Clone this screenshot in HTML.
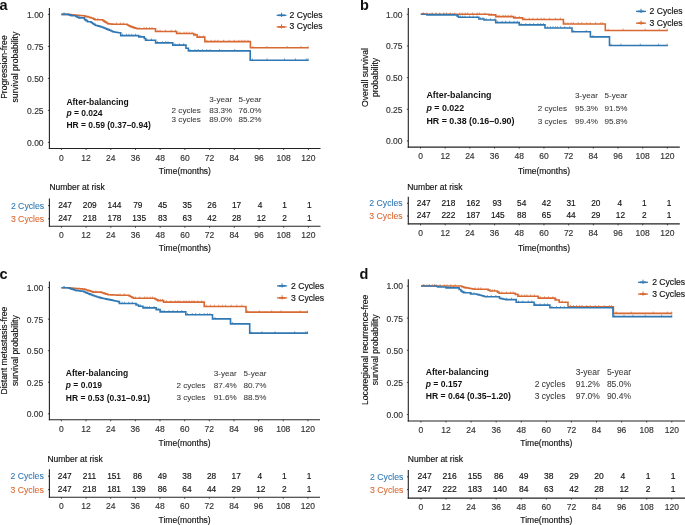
<!DOCTYPE html>
<html><head><meta charset="utf-8"><style>
html,body{margin:0;padding:0;background:#fff;}
svg{display:block;will-change:transform;}
text{font-family:"Liberation Sans",sans-serif;}
</style></head><body>
<svg width="685" height="525" viewBox="0 0 685 525">
<rect width="685" height="525" fill="#fff"/>
<text x="-0.60" y="10.00" font-size="14.5" fill="#111" font-weight="bold">a</text>
<line x1="49.40" y1="7.90" x2="49.40" y2="149.05" stroke="#222222" stroke-width="1.1"/>
<line x1="48.85" y1="148.50" x2="320.50" y2="148.50" stroke="#222222" stroke-width="1.1"/>
<line x1="47.90" y1="142.40" x2="49.40" y2="142.40" stroke="#222222" stroke-width="0.8"/>
<text x="43.60" y="145.80" font-size="8.5" fill="#333333" stroke="#333333" stroke-width="0.15" text-anchor="end">0.00</text>
<line x1="47.90" y1="110.40" x2="49.40" y2="110.40" stroke="#222222" stroke-width="0.8"/>
<text x="43.60" y="113.80" font-size="8.5" fill="#333333" stroke="#333333" stroke-width="0.15" text-anchor="end">0.25</text>
<line x1="47.90" y1="78.40" x2="49.40" y2="78.40" stroke="#222222" stroke-width="0.8"/>
<text x="43.60" y="81.80" font-size="8.5" fill="#333333" stroke="#333333" stroke-width="0.15" text-anchor="end">0.50</text>
<line x1="47.90" y1="46.40" x2="49.40" y2="46.40" stroke="#222222" stroke-width="0.8"/>
<text x="43.60" y="49.80" font-size="8.5" fill="#333333" stroke="#333333" stroke-width="0.15" text-anchor="end">0.75</text>
<line x1="47.90" y1="14.40" x2="49.40" y2="14.40" stroke="#222222" stroke-width="0.8"/>
<text x="43.60" y="17.80" font-size="8.5" fill="#333333" stroke="#333333" stroke-width="0.15" text-anchor="end">1.00</text>
<line x1="61.40" y1="148.50" x2="61.40" y2="150.00" stroke="#222222" stroke-width="0.8"/>
<text x="61.40" y="160.80" font-size="8.5" fill="#333333" stroke="#333333" stroke-width="0.15" text-anchor="middle">0</text>
<line x1="86.10" y1="148.50" x2="86.10" y2="150.00" stroke="#222222" stroke-width="0.8"/>
<text x="86.10" y="160.80" font-size="8.5" fill="#333333" stroke="#333333" stroke-width="0.15" text-anchor="middle">12</text>
<line x1="110.80" y1="148.50" x2="110.80" y2="150.00" stroke="#222222" stroke-width="0.8"/>
<text x="110.80" y="160.80" font-size="8.5" fill="#333333" stroke="#333333" stroke-width="0.15" text-anchor="middle">24</text>
<line x1="135.50" y1="148.50" x2="135.50" y2="150.00" stroke="#222222" stroke-width="0.8"/>
<text x="135.50" y="160.80" font-size="8.5" fill="#333333" stroke="#333333" stroke-width="0.15" text-anchor="middle">36</text>
<line x1="160.20" y1="148.50" x2="160.20" y2="150.00" stroke="#222222" stroke-width="0.8"/>
<text x="160.20" y="160.80" font-size="8.5" fill="#333333" stroke="#333333" stroke-width="0.15" text-anchor="middle">48</text>
<line x1="184.90" y1="148.50" x2="184.90" y2="150.00" stroke="#222222" stroke-width="0.8"/>
<text x="184.90" y="160.80" font-size="8.5" fill="#333333" stroke="#333333" stroke-width="0.15" text-anchor="middle">60</text>
<line x1="209.60" y1="148.50" x2="209.60" y2="150.00" stroke="#222222" stroke-width="0.8"/>
<text x="209.60" y="160.80" font-size="8.5" fill="#333333" stroke="#333333" stroke-width="0.15" text-anchor="middle">72</text>
<line x1="234.30" y1="148.50" x2="234.30" y2="150.00" stroke="#222222" stroke-width="0.8"/>
<text x="234.30" y="160.80" font-size="8.5" fill="#333333" stroke="#333333" stroke-width="0.15" text-anchor="middle">84</text>
<line x1="259.00" y1="148.50" x2="259.00" y2="150.00" stroke="#222222" stroke-width="0.8"/>
<text x="259.00" y="160.80" font-size="8.5" fill="#333333" stroke="#333333" stroke-width="0.15" text-anchor="middle">96</text>
<line x1="283.70" y1="148.50" x2="283.70" y2="150.00" stroke="#222222" stroke-width="0.8"/>
<text x="283.70" y="160.80" font-size="8.5" fill="#333333" stroke="#333333" stroke-width="0.15" text-anchor="middle">108</text>
<line x1="308.40" y1="148.50" x2="308.40" y2="150.00" stroke="#222222" stroke-width="0.8"/>
<text x="308.40" y="160.80" font-size="8.5" fill="#333333" stroke="#333333" stroke-width="0.15" text-anchor="middle">120</text>
<text x="184.90" y="173.80" font-size="8.5" fill="#111111" stroke="#111111" stroke-width="0.15" text-anchor="middle">Time(months)</text>
<text x="0" y="0" font-size="8.6" fill="#111111" stroke="#111111" stroke-width="0.15" text-anchor="middle" transform="translate(7.00,67.10) rotate(-90)">Progression-free</text>
<text x="0" y="0" font-size="8.6" fill="#111111" stroke="#111111" stroke-width="0.15" text-anchor="middle" transform="translate(18.00,67.10) rotate(-90)">survival probability</text>
<line x1="276.60" y1="15.30" x2="286.50" y2="15.30" stroke="#3078b3" stroke-width="1.2"/>
<line x1="278.25" y1="15.30" x2="284.85" y2="15.30" stroke="#3078b3" stroke-width="1.7"/>
<line x1="281.55" y1="12.70" x2="281.55" y2="16.90" stroke="#3078b3" stroke-width="1.0"/>
<text x="289.60" y="17.70" font-size="8.6" fill="#111111" stroke="#111111" stroke-width="0.15">2 Cycles</text>
<line x1="276.60" y1="26.90" x2="286.50" y2="26.90" stroke="#d96933" stroke-width="1.2"/>
<line x1="278.25" y1="26.90" x2="284.85" y2="26.90" stroke="#d96933" stroke-width="1.7"/>
<line x1="281.55" y1="24.30" x2="281.55" y2="28.50" stroke="#d96933" stroke-width="1.0"/>
<text x="289.60" y="29.30" font-size="8.6" fill="#111111" stroke="#111111" stroke-width="0.15">3 Cycles</text>
<text x="66.40" y="104.60" font-size="8.5" fill="#111" font-weight="bold">After-balancing</text>
<text x="66.40" y="116.00" font-size="8.5" fill="#111" font-weight="bold"><tspan font-style="italic">p</tspan> = 0.024</text>
<text x="66.40" y="127.90" font-size="8.5" fill="#111" font-weight="bold">HR = 0.59 (0.37–0.94)</text>
<text x="209.20" y="102.20" font-size="8.1" fill="#3a3a3a" stroke="#3a3a3a" stroke-width="0.06">3-year</text>
<text x="238.50" y="102.20" font-size="8.1" fill="#3a3a3a" stroke="#3a3a3a" stroke-width="0.06">5-year</text>
<text x="171.60" y="112.80" font-size="8.1" fill="#3a3a3a" stroke="#3a3a3a" stroke-width="0.06">2 cycles</text>
<text x="171.60" y="122.20" font-size="8.1" fill="#3a3a3a" stroke="#3a3a3a" stroke-width="0.06">3 cycles</text>
<text x="209.20" y="112.80" font-size="8.1" fill="#3a3a3a" stroke="#3a3a3a" stroke-width="0.06">83.3%</text>
<text x="238.50" y="112.80" font-size="8.1" fill="#3a3a3a" stroke="#3a3a3a" stroke-width="0.06">76.0%</text>
<text x="209.20" y="122.20" font-size="8.1" fill="#3a3a3a" stroke="#3a3a3a" stroke-width="0.06">89.0%</text>
<text x="238.50" y="122.20" font-size="8.1" fill="#3a3a3a" stroke="#3a3a3a" stroke-width="0.06">85.2%</text>
<path d="M61.40 14.40H67.00H68.37V14.52H69.73V14.63H71.10V14.75H72.47V14.87H73.83V14.98H75.20V15.10H76.57V15.22H77.93V15.33H79.30V15.45H80.67V15.57H82.03V15.68H83.40V15.80H84.93V16.20H86.47V16.60H88.00V17.00H89.57V17.50H91.13V18.00H92.70V18.50H93.85V19.10H95.00V19.70H101.40H102.68V20.52H103.96V21.34H105.24V22.16H106.52V22.98H107.80V23.80H109.10V23.90H110.40V24.00H111.70V24.10H113.00V24.20H114.30V24.30H126.00H127.33V25.00H128.67V25.70H130.00V26.40H131.38V26.88H132.76V27.36H134.14V27.84H135.52V28.32H136.90V28.80H155.50V31.50H176.60V33.50H193.80V34.90H197.10V37.10H204.80V41.60H250.40V47.80H308.60" fill="none" stroke="#d96933" stroke-width="1.6" stroke-linejoin="miter"/>
<path d="M61.40 14.40H67.60H68.97V14.87H70.33V15.33H71.70V15.80H74.60H75.97V16.50H77.33V17.20H78.70V17.90H82.80H84.50V19.60H86.00V20.65H87.50V21.70H89.80H91.10V22.57H92.40V23.45H93.70V24.32H95.00V25.20H96.28V25.56H97.56V25.92H98.84V26.28H100.12V26.64H101.40V27.00H102.68V27.52H103.96V28.04H105.24V28.56H106.52V29.08H107.80V29.60H109.37V30.30H110.93V31.00H112.50V31.70H113.97V31.97H115.45V32.25H116.93V32.52H118.40V32.80H120.70V35.60H138.80V36.90H143.00H144.30V38.55H145.60V40.20H155.60V42.90H172.80V45.10H186.00V48.20H188.40V50.90H250.20V60.20H308.60" fill="none" stroke="#3078b3" stroke-width="1.6" stroke-linejoin="miter"/>
<path d="M63.30 12.60V14.40M97.85 17.90V19.70M116.32 22.50V24.30M120.47 22.50V24.30M123.22 22.50V24.30M139.16 27.00V28.80M144.04 27.00V28.80M146.46 27.00V28.80M149.63 27.00V28.80M152.04 27.00V28.80M157.89 29.70V31.50M160.13 29.70V31.50M165.67 29.70V31.50M171.15 29.70V31.50M175.54 29.70V31.50M177.91 31.70V33.50M180.07 31.70V33.50M184.02 31.70V33.50M186.33 31.70V33.50M189.09 31.70V33.50M192.04 31.70V33.50M195.73 33.10V34.90M199.78 35.30V37.10M203.70 35.30V37.10M206.80 39.80V41.60M211.22 39.80V41.60M214.92 39.80V41.60M217.99 39.80V41.60M223.58 39.80V41.60M229.17 39.80V41.60M234.21 39.80V41.60M238.79 39.80V41.60M241.99 39.80V41.60M244.89 39.80V41.60M248.01 39.80V41.60M252.93 46.00V47.80M266.94 46.00V47.80M287.19 46.00V47.80M301.00 46.00V47.80M308.10 46.00V48.40" stroke="#d96933" stroke-width="0.8" fill="none" opacity="0.85"/>
<path d="M64.25 12.60V14.40M79.87 16.10V17.90M122.55 33.80V35.60M126.50 33.80V35.60M129.06 33.80V35.60M131.83 33.80V35.60M135.49 33.80V35.60M140.71 35.10V36.90M146.77 38.40V40.20M151.36 38.40V40.20M157.63 41.10V42.90M162.29 41.10V42.90M165.65 41.10V42.90M167.95 41.10V42.90M174.98 43.30V45.10M179.38 43.30V45.10M183.65 43.30V45.10M190.13 49.10V50.90M194.88 49.10V50.90M198.28 49.10V50.90M202.38 49.10V50.90M206.79 49.10V50.90M209.99 49.10V50.90M219.59 49.10V50.90M234.63 49.10V50.90M252.38 58.40V60.20M267.05 58.40V60.20M284.44 58.40V60.20M295.39 58.40V60.20M306.29 58.40V60.20M308.10 58.40V60.80" stroke="#3078b3" stroke-width="0.8" fill="none" opacity="0.85"/>
<text x="49.40" y="190.00" font-size="8.5" fill="#111111" stroke="#111111" stroke-width="0.15">Number at risk</text>
<line x1="49.40" y1="198.50" x2="49.40" y2="226.85" stroke="#222222" stroke-width="1.1"/>
<line x1="48.85" y1="226.30" x2="320.50" y2="226.30" stroke="#222222" stroke-width="1.1"/>
<line x1="48.10" y1="205.60" x2="49.40" y2="205.60" stroke="#222222" stroke-width="0.9"/>
<text x="44.20" y="208.50" font-size="8.7" fill="#3078b3" stroke="#3078b3" stroke-width="0.08" text-anchor="end">2 Cycles</text>
<text x="65.05" y="207.50" font-size="8.3" fill="#111111" stroke="#111111" stroke-width="0.15" text-anchor="middle">247</text>
<text x="89.75" y="207.50" font-size="8.3" fill="#111111" stroke="#111111" stroke-width="0.15" text-anchor="middle">209</text>
<text x="114.45" y="207.50" font-size="8.3" fill="#111111" stroke="#111111" stroke-width="0.15" text-anchor="middle">144</text>
<text x="137.80" y="207.50" font-size="8.3" fill="#111111" stroke="#111111" stroke-width="0.15" text-anchor="middle">79</text>
<text x="162.50" y="207.50" font-size="8.3" fill="#111111" stroke="#111111" stroke-width="0.15" text-anchor="middle">45</text>
<text x="187.20" y="207.50" font-size="8.3" fill="#111111" stroke="#111111" stroke-width="0.15" text-anchor="middle">35</text>
<text x="211.90" y="207.50" font-size="8.3" fill="#111111" stroke="#111111" stroke-width="0.15" text-anchor="middle">26</text>
<text x="236.60" y="207.50" font-size="8.3" fill="#111111" stroke="#111111" stroke-width="0.15" text-anchor="middle">17</text>
<text x="259.95" y="207.50" font-size="8.3" fill="#111111" stroke="#111111" stroke-width="0.15" text-anchor="middle">4</text>
<text x="284.65" y="207.50" font-size="8.3" fill="#111111" stroke="#111111" stroke-width="0.15" text-anchor="middle">1</text>
<text x="309.35" y="207.50" font-size="8.3" fill="#111111" stroke="#111111" stroke-width="0.15" text-anchor="middle">1</text>
<line x1="48.10" y1="218.80" x2="49.40" y2="218.80" stroke="#222222" stroke-width="0.9"/>
<text x="44.20" y="221.70" font-size="8.7" fill="#d96933" stroke="#d96933" stroke-width="0.08" text-anchor="end">3 Cycles</text>
<text x="65.05" y="220.70" font-size="8.3" fill="#111111" stroke="#111111" stroke-width="0.15" text-anchor="middle">247</text>
<text x="89.75" y="220.70" font-size="8.3" fill="#111111" stroke="#111111" stroke-width="0.15" text-anchor="middle">218</text>
<text x="114.45" y="220.70" font-size="8.3" fill="#111111" stroke="#111111" stroke-width="0.15" text-anchor="middle">178</text>
<text x="139.15" y="220.70" font-size="8.3" fill="#111111" stroke="#111111" stroke-width="0.15" text-anchor="middle">135</text>
<text x="162.50" y="220.70" font-size="8.3" fill="#111111" stroke="#111111" stroke-width="0.15" text-anchor="middle">83</text>
<text x="187.20" y="220.70" font-size="8.3" fill="#111111" stroke="#111111" stroke-width="0.15" text-anchor="middle">63</text>
<text x="211.90" y="220.70" font-size="8.3" fill="#111111" stroke="#111111" stroke-width="0.15" text-anchor="middle">42</text>
<text x="236.60" y="220.70" font-size="8.3" fill="#111111" stroke="#111111" stroke-width="0.15" text-anchor="middle">28</text>
<text x="261.30" y="220.70" font-size="8.3" fill="#111111" stroke="#111111" stroke-width="0.15" text-anchor="middle">12</text>
<text x="284.65" y="220.70" font-size="8.3" fill="#111111" stroke="#111111" stroke-width="0.15" text-anchor="middle">2</text>
<text x="309.35" y="220.70" font-size="8.3" fill="#111111" stroke="#111111" stroke-width="0.15" text-anchor="middle">1</text>
<line x1="61.40" y1="226.30" x2="61.40" y2="227.80" stroke="#222222" stroke-width="0.8"/>
<text x="61.40" y="238.30" font-size="8.5" fill="#333333" stroke="#333333" stroke-width="0.15" text-anchor="middle">0</text>
<line x1="86.10" y1="226.30" x2="86.10" y2="227.80" stroke="#222222" stroke-width="0.8"/>
<text x="86.10" y="238.30" font-size="8.5" fill="#333333" stroke="#333333" stroke-width="0.15" text-anchor="middle">12</text>
<line x1="110.80" y1="226.30" x2="110.80" y2="227.80" stroke="#222222" stroke-width="0.8"/>
<text x="110.80" y="238.30" font-size="8.5" fill="#333333" stroke="#333333" stroke-width="0.15" text-anchor="middle">24</text>
<line x1="135.50" y1="226.30" x2="135.50" y2="227.80" stroke="#222222" stroke-width="0.8"/>
<text x="135.50" y="238.30" font-size="8.5" fill="#333333" stroke="#333333" stroke-width="0.15" text-anchor="middle">36</text>
<line x1="160.20" y1="226.30" x2="160.20" y2="227.80" stroke="#222222" stroke-width="0.8"/>
<text x="160.20" y="238.30" font-size="8.5" fill="#333333" stroke="#333333" stroke-width="0.15" text-anchor="middle">48</text>
<line x1="184.90" y1="226.30" x2="184.90" y2="227.80" stroke="#222222" stroke-width="0.8"/>
<text x="184.90" y="238.30" font-size="8.5" fill="#333333" stroke="#333333" stroke-width="0.15" text-anchor="middle">60</text>
<line x1="209.60" y1="226.30" x2="209.60" y2="227.80" stroke="#222222" stroke-width="0.8"/>
<text x="209.60" y="238.30" font-size="8.5" fill="#333333" stroke="#333333" stroke-width="0.15" text-anchor="middle">72</text>
<line x1="234.30" y1="226.30" x2="234.30" y2="227.80" stroke="#222222" stroke-width="0.8"/>
<text x="234.30" y="238.30" font-size="8.5" fill="#333333" stroke="#333333" stroke-width="0.15" text-anchor="middle">84</text>
<line x1="259.00" y1="226.30" x2="259.00" y2="227.80" stroke="#222222" stroke-width="0.8"/>
<text x="259.00" y="238.30" font-size="8.5" fill="#333333" stroke="#333333" stroke-width="0.15" text-anchor="middle">96</text>
<line x1="283.70" y1="226.30" x2="283.70" y2="227.80" stroke="#222222" stroke-width="0.8"/>
<text x="283.70" y="238.30" font-size="8.5" fill="#333333" stroke="#333333" stroke-width="0.15" text-anchor="middle">108</text>
<line x1="308.40" y1="226.30" x2="308.40" y2="227.80" stroke="#222222" stroke-width="0.8"/>
<text x="308.40" y="238.30" font-size="8.5" fill="#333333" stroke="#333333" stroke-width="0.15" text-anchor="middle">120</text>
<text x="184.90" y="251.00" font-size="8.5" fill="#111111" stroke="#111111" stroke-width="0.15" text-anchor="middle">Time(months)</text>
<text x="360.00" y="10.00" font-size="14.5" fill="#111" font-weight="bold">b</text>
<line x1="408.30" y1="8.10" x2="408.30" y2="147.65" stroke="#222222" stroke-width="1.1"/>
<line x1="407.75" y1="147.10" x2="679.80" y2="147.10" stroke="#222222" stroke-width="1.1"/>
<line x1="406.80" y1="140.90" x2="408.30" y2="140.90" stroke="#222222" stroke-width="0.8"/>
<text x="402.50" y="144.30" font-size="8.5" fill="#333333" stroke="#333333" stroke-width="0.15" text-anchor="end">0.00</text>
<line x1="406.80" y1="109.25" x2="408.30" y2="109.25" stroke="#222222" stroke-width="0.8"/>
<text x="402.50" y="112.65" font-size="8.5" fill="#333333" stroke="#333333" stroke-width="0.15" text-anchor="end">0.25</text>
<line x1="406.80" y1="77.60" x2="408.30" y2="77.60" stroke="#222222" stroke-width="0.8"/>
<text x="402.50" y="81.00" font-size="8.5" fill="#333333" stroke="#333333" stroke-width="0.15" text-anchor="end">0.50</text>
<line x1="406.80" y1="45.95" x2="408.30" y2="45.95" stroke="#222222" stroke-width="0.8"/>
<text x="402.50" y="49.35" font-size="8.5" fill="#333333" stroke="#333333" stroke-width="0.15" text-anchor="end">0.75</text>
<line x1="406.80" y1="14.30" x2="408.30" y2="14.30" stroke="#222222" stroke-width="0.8"/>
<text x="402.50" y="17.70" font-size="8.5" fill="#333333" stroke="#333333" stroke-width="0.15" text-anchor="end">1.00</text>
<line x1="420.50" y1="147.10" x2="420.50" y2="148.60" stroke="#222222" stroke-width="0.8"/>
<text x="420.50" y="159.00" font-size="8.5" fill="#333333" stroke="#333333" stroke-width="0.15" text-anchor="middle">0</text>
<line x1="445.19" y1="147.10" x2="445.19" y2="148.60" stroke="#222222" stroke-width="0.8"/>
<text x="445.19" y="159.00" font-size="8.5" fill="#333333" stroke="#333333" stroke-width="0.15" text-anchor="middle">12</text>
<line x1="469.88" y1="147.10" x2="469.88" y2="148.60" stroke="#222222" stroke-width="0.8"/>
<text x="469.88" y="159.00" font-size="8.5" fill="#333333" stroke="#333333" stroke-width="0.15" text-anchor="middle">24</text>
<line x1="494.57" y1="147.10" x2="494.57" y2="148.60" stroke="#222222" stroke-width="0.8"/>
<text x="494.57" y="159.00" font-size="8.5" fill="#333333" stroke="#333333" stroke-width="0.15" text-anchor="middle">36</text>
<line x1="519.26" y1="147.10" x2="519.26" y2="148.60" stroke="#222222" stroke-width="0.8"/>
<text x="519.26" y="159.00" font-size="8.5" fill="#333333" stroke="#333333" stroke-width="0.15" text-anchor="middle">48</text>
<line x1="543.95" y1="147.10" x2="543.95" y2="148.60" stroke="#222222" stroke-width="0.8"/>
<text x="543.95" y="159.00" font-size="8.5" fill="#333333" stroke="#333333" stroke-width="0.15" text-anchor="middle">60</text>
<line x1="568.64" y1="147.10" x2="568.64" y2="148.60" stroke="#222222" stroke-width="0.8"/>
<text x="568.64" y="159.00" font-size="8.5" fill="#333333" stroke="#333333" stroke-width="0.15" text-anchor="middle">72</text>
<line x1="593.33" y1="147.10" x2="593.33" y2="148.60" stroke="#222222" stroke-width="0.8"/>
<text x="593.33" y="159.00" font-size="8.5" fill="#333333" stroke="#333333" stroke-width="0.15" text-anchor="middle">84</text>
<line x1="618.02" y1="147.10" x2="618.02" y2="148.60" stroke="#222222" stroke-width="0.8"/>
<text x="618.02" y="159.00" font-size="8.5" fill="#333333" stroke="#333333" stroke-width="0.15" text-anchor="middle">96</text>
<line x1="642.71" y1="147.10" x2="642.71" y2="148.60" stroke="#222222" stroke-width="0.8"/>
<text x="642.71" y="159.00" font-size="8.5" fill="#333333" stroke="#333333" stroke-width="0.15" text-anchor="middle">108</text>
<line x1="667.40" y1="147.10" x2="667.40" y2="148.60" stroke="#222222" stroke-width="0.8"/>
<text x="667.40" y="159.00" font-size="8.5" fill="#333333" stroke="#333333" stroke-width="0.15" text-anchor="middle">120</text>
<text x="543.95" y="173.60" font-size="8.5" fill="#111111" stroke="#111111" stroke-width="0.15" text-anchor="middle">Time(months)</text>
<text x="0" y="0" font-size="8.6" fill="#111111" stroke="#111111" stroke-width="0.15" text-anchor="middle" transform="translate(368.20,77.50) rotate(-90)">Overall survival</text>
<text x="0" y="0" font-size="8.6" fill="#111111" stroke="#111111" stroke-width="0.15" text-anchor="middle" transform="translate(378.40,77.50) rotate(-90)">probability</text>
<line x1="636.00" y1="11.40" x2="646.00" y2="11.40" stroke="#3078b3" stroke-width="1.2"/>
<line x1="637.70" y1="11.40" x2="644.30" y2="11.40" stroke="#3078b3" stroke-width="1.7"/>
<line x1="641.00" y1="8.80" x2="641.00" y2="13.00" stroke="#3078b3" stroke-width="1.0"/>
<text x="649.60" y="14.00" font-size="8.6" fill="#111111" stroke="#111111" stroke-width="0.15">2 Cycles</text>
<line x1="636.00" y1="23.20" x2="646.00" y2="23.20" stroke="#d96933" stroke-width="1.2"/>
<line x1="637.70" y1="23.20" x2="644.30" y2="23.20" stroke="#d96933" stroke-width="1.7"/>
<line x1="641.00" y1="20.60" x2="641.00" y2="24.80" stroke="#d96933" stroke-width="1.0"/>
<text x="649.60" y="25.80" font-size="8.6" fill="#111111" stroke="#111111" stroke-width="0.15">3 Cycles</text>
<text x="426.40" y="98.30" font-size="8.9" fill="#111" font-weight="bold">After-balancing</text>
<text x="426.40" y="111.20" font-size="8.9" fill="#111" font-weight="bold"><tspan font-style="italic">p</tspan> = 0.022</text>
<text x="426.40" y="124.20" font-size="8.9" fill="#111" font-weight="bold">HR = 0.38 (0.16–0.90)</text>
<text x="575.10" y="98.10" font-size="8.1" fill="#3a3a3a" stroke="#3a3a3a" stroke-width="0.06">3-year</text>
<text x="604.50" y="98.10" font-size="8.1" fill="#3a3a3a" stroke="#3a3a3a" stroke-width="0.06">5-year</text>
<text x="537.70" y="111.30" font-size="8.1" fill="#3a3a3a" stroke="#3a3a3a" stroke-width="0.06">2 cycles</text>
<text x="537.70" y="124.40" font-size="8.1" fill="#3a3a3a" stroke="#3a3a3a" stroke-width="0.06">3 cycles</text>
<text x="575.10" y="111.30" font-size="8.1" fill="#3a3a3a" stroke="#3a3a3a" stroke-width="0.06">95.3%</text>
<text x="604.50" y="111.30" font-size="8.1" fill="#3a3a3a" stroke="#3a3a3a" stroke-width="0.06">91.5%</text>
<text x="575.10" y="124.40" font-size="8.1" fill="#3a3a3a" stroke="#3a3a3a" stroke-width="0.06">99.4%</text>
<text x="604.50" y="124.40" font-size="8.1" fill="#3a3a3a" stroke="#3a3a3a" stroke-width="0.06">95.8%</text>
<path d="M420.80 14.30H489.00V14.90H495.70V16.60H513.70V17.90H522.70V19.50H563.40V24.00H605.30V30.50H667.70" fill="none" stroke="#d96933" stroke-width="1.6" stroke-linejoin="miter"/>
<path d="M420.80 14.30H427.00V14.90H455.90H457.20V16.10H458.50V17.30H478.90V19.00H484.00V20.00H495.70V22.60H519.20V24.90H545.00V28.00H572.00V31.80H590.40V36.90H609.50V45.50H667.70" fill="none" stroke="#3078b3" stroke-width="1.6" stroke-linejoin="miter"/>
<path d="M422.70 12.50V14.30M426.76 12.50V14.30M432.10 12.50V14.30M435.83 12.50V14.30M439.71 12.50V14.30M443.86 12.50V14.30M446.61 12.50V14.30M450.50 12.50V14.30M454.80 12.50V14.30M459.68 12.50V14.30M462.11 12.50V14.30M465.27 12.50V14.30M467.69 12.50V14.30M472.62 12.50V14.30M477.15 12.50V14.30M479.40 12.50V14.30M484.93 12.50V14.30M491.31 13.10V14.90M497.01 14.80V16.60M499.17 14.80V16.60M503.12 14.80V16.60M505.43 14.80V16.60M508.19 14.80V16.60M511.14 14.80V16.60M515.63 16.10V17.90M519.27 16.10V17.90M524.74 17.70V19.50M529.08 17.70V19.50M532.93 17.70V19.50M537.35 17.70V19.50M541.05 17.70V19.50M544.12 17.70V19.50M549.71 17.70V19.50M555.30 17.70V19.50M560.34 17.70V19.50M565.03 22.20V24.00M567.93 22.20V24.00M571.05 22.20V24.00M573.39 22.20V24.00M578.17 22.20V24.00M581.68 22.20V24.00M586.74 22.20V24.00M590.19 22.20V24.00M595.64 22.20V24.00M600.71 22.20V24.00M602.81 22.20V24.00M608.12 28.70V30.50M623.10 28.70V30.50M645.23 28.70V30.50M659.19 28.70V30.50M667.20 28.70V31.10" stroke="#d96933" stroke-width="0.8" fill="none" opacity="0.85"/>
<path d="M423.65 12.50V14.30M429.78 13.10V14.90M432.18 13.10V14.90M436.35 13.10V14.90M439.93 13.10V14.90M443.89 13.10V14.90M446.44 13.10V14.90M449.22 13.10V14.90M452.87 13.10V14.90M460.41 15.50V17.30M462.60 15.50V17.30M465.00 15.50V17.30M469.58 15.50V17.30M473.16 15.50V17.30M477.05 15.50V17.30M480.62 17.20V19.00M482.92 17.20V19.00M486.18 18.20V20.00M490.58 18.20V20.00M494.85 18.20V20.00M497.43 20.80V22.60M502.18 20.80V22.60M505.58 20.80V22.60M509.68 20.80V22.60M514.09 20.80V22.60M517.29 20.80V22.60M521.15 23.10V24.90M525.76 23.10V24.90M529.93 23.10V24.90M533.59 23.10V24.90M537.94 23.10V24.90M540.68 23.10V24.90M543.40 23.10V24.90M547.63 26.20V28.00M550.42 26.20V28.00M552.92 26.20V28.00M555.36 26.20V28.00M557.60 26.20V28.00M560.66 26.20V28.00M564.77 26.20V28.00M569.74 26.20V28.00M573.74 30.00V31.80M586.18 30.00V31.80M592.96 35.10V36.90M611.02 43.70V45.50M620.92 43.70V45.50M640.29 43.70V45.50M658.59 43.70V45.50M667.20 43.70V46.10" stroke="#3078b3" stroke-width="0.8" fill="none" opacity="0.85"/>
<text x="407.20" y="189.80" font-size="8.5" fill="#111111" stroke="#111111" stroke-width="0.15">Number at risk</text>
<line x1="408.30" y1="196.70" x2="408.30" y2="224.45" stroke="#222222" stroke-width="1.1"/>
<line x1="407.75" y1="223.90" x2="679.80" y2="223.90" stroke="#222222" stroke-width="1.1"/>
<line x1="407.00" y1="203.30" x2="408.30" y2="203.30" stroke="#222222" stroke-width="0.9"/>
<text x="402.60" y="206.40" font-size="8.7" fill="#3078b3" stroke="#3078b3" stroke-width="0.08" text-anchor="end">2 Cycles</text>
<text x="423.74" y="205.60" font-size="8.3" fill="#111111" stroke="#111111" stroke-width="0.15" text-anchor="middle">247</text>
<text x="448.43" y="205.60" font-size="8.3" fill="#111111" stroke="#111111" stroke-width="0.15" text-anchor="middle">218</text>
<text x="473.12" y="205.60" font-size="8.3" fill="#111111" stroke="#111111" stroke-width="0.15" text-anchor="middle">162</text>
<text x="497.03" y="205.60" font-size="8.3" fill="#111111" stroke="#111111" stroke-width="0.15" text-anchor="middle">93</text>
<text x="521.72" y="205.60" font-size="8.3" fill="#111111" stroke="#111111" stroke-width="0.15" text-anchor="middle">54</text>
<text x="546.41" y="205.60" font-size="8.3" fill="#111111" stroke="#111111" stroke-width="0.15" text-anchor="middle">42</text>
<text x="571.10" y="205.60" font-size="8.3" fill="#111111" stroke="#111111" stroke-width="0.15" text-anchor="middle">31</text>
<text x="595.79" y="205.60" font-size="8.3" fill="#111111" stroke="#111111" stroke-width="0.15" text-anchor="middle">20</text>
<text x="619.70" y="205.60" font-size="8.3" fill="#111111" stroke="#111111" stroke-width="0.15" text-anchor="middle">4</text>
<text x="644.39" y="205.60" font-size="8.3" fill="#111111" stroke="#111111" stroke-width="0.15" text-anchor="middle">1</text>
<text x="669.08" y="205.60" font-size="8.3" fill="#111111" stroke="#111111" stroke-width="0.15" text-anchor="middle">1</text>
<line x1="407.00" y1="216.00" x2="408.30" y2="216.00" stroke="#222222" stroke-width="0.9"/>
<text x="402.60" y="219.10" font-size="8.7" fill="#d96933" stroke="#d96933" stroke-width="0.08" text-anchor="end">3 Cycles</text>
<text x="423.74" y="218.30" font-size="8.3" fill="#111111" stroke="#111111" stroke-width="0.15" text-anchor="middle">247</text>
<text x="448.43" y="218.30" font-size="8.3" fill="#111111" stroke="#111111" stroke-width="0.15" text-anchor="middle">222</text>
<text x="473.12" y="218.30" font-size="8.3" fill="#111111" stroke="#111111" stroke-width="0.15" text-anchor="middle">187</text>
<text x="497.81" y="218.30" font-size="8.3" fill="#111111" stroke="#111111" stroke-width="0.15" text-anchor="middle">145</text>
<text x="521.72" y="218.30" font-size="8.3" fill="#111111" stroke="#111111" stroke-width="0.15" text-anchor="middle">88</text>
<text x="546.41" y="218.30" font-size="8.3" fill="#111111" stroke="#111111" stroke-width="0.15" text-anchor="middle">65</text>
<text x="571.10" y="218.30" font-size="8.3" fill="#111111" stroke="#111111" stroke-width="0.15" text-anchor="middle">44</text>
<text x="595.79" y="218.30" font-size="8.3" fill="#111111" stroke="#111111" stroke-width="0.15" text-anchor="middle">29</text>
<text x="620.48" y="218.30" font-size="8.3" fill="#111111" stroke="#111111" stroke-width="0.15" text-anchor="middle">12</text>
<text x="644.39" y="218.30" font-size="8.3" fill="#111111" stroke="#111111" stroke-width="0.15" text-anchor="middle">2</text>
<text x="669.08" y="218.30" font-size="8.3" fill="#111111" stroke="#111111" stroke-width="0.15" text-anchor="middle">1</text>
<line x1="420.50" y1="223.90" x2="420.50" y2="225.40" stroke="#222222" stroke-width="0.8"/>
<text x="420.50" y="236.30" font-size="8.5" fill="#333333" stroke="#333333" stroke-width="0.15" text-anchor="middle">0</text>
<line x1="445.19" y1="223.90" x2="445.19" y2="225.40" stroke="#222222" stroke-width="0.8"/>
<text x="445.19" y="236.30" font-size="8.5" fill="#333333" stroke="#333333" stroke-width="0.15" text-anchor="middle">12</text>
<line x1="469.88" y1="223.90" x2="469.88" y2="225.40" stroke="#222222" stroke-width="0.8"/>
<text x="469.88" y="236.30" font-size="8.5" fill="#333333" stroke="#333333" stroke-width="0.15" text-anchor="middle">24</text>
<line x1="494.57" y1="223.90" x2="494.57" y2="225.40" stroke="#222222" stroke-width="0.8"/>
<text x="494.57" y="236.30" font-size="8.5" fill="#333333" stroke="#333333" stroke-width="0.15" text-anchor="middle">36</text>
<line x1="519.26" y1="223.90" x2="519.26" y2="225.40" stroke="#222222" stroke-width="0.8"/>
<text x="519.26" y="236.30" font-size="8.5" fill="#333333" stroke="#333333" stroke-width="0.15" text-anchor="middle">48</text>
<line x1="543.95" y1="223.90" x2="543.95" y2="225.40" stroke="#222222" stroke-width="0.8"/>
<text x="543.95" y="236.30" font-size="8.5" fill="#333333" stroke="#333333" stroke-width="0.15" text-anchor="middle">60</text>
<line x1="568.64" y1="223.90" x2="568.64" y2="225.40" stroke="#222222" stroke-width="0.8"/>
<text x="568.64" y="236.30" font-size="8.5" fill="#333333" stroke="#333333" stroke-width="0.15" text-anchor="middle">72</text>
<line x1="593.33" y1="223.90" x2="593.33" y2="225.40" stroke="#222222" stroke-width="0.8"/>
<text x="593.33" y="236.30" font-size="8.5" fill="#333333" stroke="#333333" stroke-width="0.15" text-anchor="middle">84</text>
<line x1="618.02" y1="223.90" x2="618.02" y2="225.40" stroke="#222222" stroke-width="0.8"/>
<text x="618.02" y="236.30" font-size="8.5" fill="#333333" stroke="#333333" stroke-width="0.15" text-anchor="middle">96</text>
<line x1="642.71" y1="223.90" x2="642.71" y2="225.40" stroke="#222222" stroke-width="0.8"/>
<text x="642.71" y="236.30" font-size="8.5" fill="#333333" stroke="#333333" stroke-width="0.15" text-anchor="middle">108</text>
<line x1="667.40" y1="223.90" x2="667.40" y2="225.40" stroke="#222222" stroke-width="0.8"/>
<text x="667.40" y="236.30" font-size="8.5" fill="#333333" stroke="#333333" stroke-width="0.15" text-anchor="middle">120</text>
<text x="543.95" y="250.90" font-size="8.5" fill="#111111" stroke="#111111" stroke-width="0.15" text-anchor="middle">Time(months)</text>
<text x="-0.60" y="278.50" font-size="14.5" fill="#111" font-weight="bold">c</text>
<line x1="49.40" y1="281.40" x2="49.40" y2="420.35" stroke="#222222" stroke-width="1.1"/>
<line x1="48.85" y1="419.80" x2="320.00" y2="419.80" stroke="#222222" stroke-width="1.1"/>
<line x1="47.90" y1="413.80" x2="49.40" y2="413.80" stroke="#222222" stroke-width="0.8"/>
<text x="43.20" y="417.20" font-size="8.5" fill="#333333" stroke="#333333" stroke-width="0.15" text-anchor="end">0.00</text>
<line x1="47.90" y1="382.25" x2="49.40" y2="382.25" stroke="#222222" stroke-width="0.8"/>
<text x="43.20" y="385.65" font-size="8.5" fill="#333333" stroke="#333333" stroke-width="0.15" text-anchor="end">0.25</text>
<line x1="47.90" y1="350.70" x2="49.40" y2="350.70" stroke="#222222" stroke-width="0.8"/>
<text x="43.20" y="354.10" font-size="8.5" fill="#333333" stroke="#333333" stroke-width="0.15" text-anchor="end">0.50</text>
<line x1="47.90" y1="319.15" x2="49.40" y2="319.15" stroke="#222222" stroke-width="0.8"/>
<text x="43.20" y="322.55" font-size="8.5" fill="#333333" stroke="#333333" stroke-width="0.15" text-anchor="end">0.75</text>
<line x1="47.90" y1="287.60" x2="49.40" y2="287.60" stroke="#222222" stroke-width="0.8"/>
<text x="43.20" y="291.00" font-size="8.5" fill="#333333" stroke="#333333" stroke-width="0.15" text-anchor="end">1.00</text>
<line x1="61.40" y1="419.80" x2="61.40" y2="421.30" stroke="#222222" stroke-width="0.8"/>
<text x="61.40" y="432.30" font-size="8.5" fill="#333333" stroke="#333333" stroke-width="0.15" text-anchor="middle">0</text>
<line x1="86.05" y1="419.80" x2="86.05" y2="421.30" stroke="#222222" stroke-width="0.8"/>
<text x="86.05" y="432.30" font-size="8.5" fill="#333333" stroke="#333333" stroke-width="0.15" text-anchor="middle">12</text>
<line x1="110.70" y1="419.80" x2="110.70" y2="421.30" stroke="#222222" stroke-width="0.8"/>
<text x="110.70" y="432.30" font-size="8.5" fill="#333333" stroke="#333333" stroke-width="0.15" text-anchor="middle">24</text>
<line x1="135.35" y1="419.80" x2="135.35" y2="421.30" stroke="#222222" stroke-width="0.8"/>
<text x="135.35" y="432.30" font-size="8.5" fill="#333333" stroke="#333333" stroke-width="0.15" text-anchor="middle">36</text>
<line x1="160.00" y1="419.80" x2="160.00" y2="421.30" stroke="#222222" stroke-width="0.8"/>
<text x="160.00" y="432.30" font-size="8.5" fill="#333333" stroke="#333333" stroke-width="0.15" text-anchor="middle">48</text>
<line x1="184.65" y1="419.80" x2="184.65" y2="421.30" stroke="#222222" stroke-width="0.8"/>
<text x="184.65" y="432.30" font-size="8.5" fill="#333333" stroke="#333333" stroke-width="0.15" text-anchor="middle">60</text>
<line x1="209.30" y1="419.80" x2="209.30" y2="421.30" stroke="#222222" stroke-width="0.8"/>
<text x="209.30" y="432.30" font-size="8.5" fill="#333333" stroke="#333333" stroke-width="0.15" text-anchor="middle">72</text>
<line x1="233.95" y1="419.80" x2="233.95" y2="421.30" stroke="#222222" stroke-width="0.8"/>
<text x="233.95" y="432.30" font-size="8.5" fill="#333333" stroke="#333333" stroke-width="0.15" text-anchor="middle">84</text>
<line x1="258.60" y1="419.80" x2="258.60" y2="421.30" stroke="#222222" stroke-width="0.8"/>
<text x="258.60" y="432.30" font-size="8.5" fill="#333333" stroke="#333333" stroke-width="0.15" text-anchor="middle">96</text>
<line x1="283.25" y1="419.80" x2="283.25" y2="421.30" stroke="#222222" stroke-width="0.8"/>
<text x="283.25" y="432.30" font-size="8.5" fill="#333333" stroke="#333333" stroke-width="0.15" text-anchor="middle">108</text>
<line x1="307.90" y1="419.80" x2="307.90" y2="421.30" stroke="#222222" stroke-width="0.8"/>
<text x="307.90" y="432.30" font-size="8.5" fill="#333333" stroke="#333333" stroke-width="0.15" text-anchor="middle">120</text>
<text x="184.65" y="445.60" font-size="8.5" fill="#111111" stroke="#111111" stroke-width="0.15" text-anchor="middle">Time(months)</text>
<text x="0" y="0" font-size="8.6" fill="#111111" stroke="#111111" stroke-width="0.15" text-anchor="middle" transform="translate(6.90,350.60) rotate(-90)">Distant metastasis-free</text>
<text x="0" y="0" font-size="8.6" fill="#111111" stroke="#111111" stroke-width="0.15" text-anchor="middle" transform="translate(17.60,350.60) rotate(-90)">survival probability</text>
<line x1="277.00" y1="285.90" x2="287.10" y2="285.90" stroke="#3078b3" stroke-width="1.2"/>
<line x1="278.75" y1="285.90" x2="285.35" y2="285.90" stroke="#3078b3" stroke-width="1.7"/>
<line x1="282.05" y1="283.30" x2="282.05" y2="287.50" stroke="#3078b3" stroke-width="1.0"/>
<text x="291.10" y="288.80" font-size="8.6" fill="#111111" stroke="#111111" stroke-width="0.15">2 Cycles</text>
<line x1="277.00" y1="297.90" x2="287.10" y2="297.90" stroke="#d96933" stroke-width="1.2"/>
<line x1="278.75" y1="297.90" x2="285.35" y2="297.90" stroke="#d96933" stroke-width="1.7"/>
<line x1="282.05" y1="295.30" x2="282.05" y2="299.50" stroke="#d96933" stroke-width="1.0"/>
<text x="291.10" y="300.80" font-size="8.6" fill="#111111" stroke="#111111" stroke-width="0.15">3 Cycles</text>
<text x="65.80" y="376.40" font-size="8.5" fill="#111" font-weight="bold">After-balancing</text>
<text x="65.80" y="387.60" font-size="8.5" fill="#111" font-weight="bold"><tspan font-style="italic">p</tspan> = 0.019</text>
<text x="65.80" y="400.70" font-size="8.5" fill="#111" font-weight="bold">HR = 0.53 (0.31–0.91)</text>
<text x="213.70" y="376.40" font-size="8.1" fill="#3a3a3a" stroke="#3a3a3a" stroke-width="0.06">3-year</text>
<text x="243.60" y="376.40" font-size="8.1" fill="#3a3a3a" stroke="#3a3a3a" stroke-width="0.06">5-year</text>
<text x="176.40" y="387.90" font-size="8.1" fill="#3a3a3a" stroke="#3a3a3a" stroke-width="0.06">2 cycles</text>
<text x="176.40" y="400.30" font-size="8.1" fill="#3a3a3a" stroke="#3a3a3a" stroke-width="0.06">3 cycles</text>
<text x="213.70" y="387.90" font-size="8.1" fill="#3a3a3a" stroke="#3a3a3a" stroke-width="0.06">87.4%</text>
<text x="243.60" y="387.90" font-size="8.1" fill="#3a3a3a" stroke="#3a3a3a" stroke-width="0.06">80.7%</text>
<text x="213.70" y="400.30" font-size="8.1" fill="#3a3a3a" stroke="#3a3a3a" stroke-width="0.06">91.6%</text>
<text x="243.60" y="400.30" font-size="8.1" fill="#3a3a3a" stroke="#3a3a3a" stroke-width="0.06">88.5%</text>
<path d="M61.50 287.80H67.00H68.37V287.91H69.73V288.02H71.10V288.12H72.47V288.23H73.83V288.34H75.20V288.45H76.57V288.56H77.93V288.67H79.30V288.78H80.67V288.88H82.03V288.99H83.40V289.10H84.77V289.53H86.14V289.96H87.51V290.39H88.89V290.81H90.26V291.24H91.63V291.67H93.00V292.10H100.00H101.32V292.53H102.63V292.97H103.95V293.40H105.27V293.83H106.58V294.27H107.90V294.70H109.34V294.77H110.79V294.84H112.23V294.91H113.67V294.99H115.11V295.06H116.56V295.13H118.00V295.20H127.70H129.12V295.98H130.55V296.75H131.97V297.52H133.40V298.30H153.50H154.97V299.07H156.43V299.83H157.90V300.60H163.60V302.10H204.20V306.50H246.00V312.10H308.00" fill="none" stroke="#d96933" stroke-width="1.6" stroke-linejoin="miter"/>
<path d="M61.50 287.80H67.60H68.92V288.23H70.23V288.67H71.55V289.10H72.87V289.53H74.18V289.97H75.50V290.40H76.90V290.58H78.30V290.76H79.70V290.94H81.10V291.12H82.50V291.30H84.03V291.95H85.55V292.60H87.07V293.25H88.60V293.90H90.02V294.42H91.44V294.94H92.86V295.46H94.28V295.98H95.70V296.50H97.22V296.95H98.75V297.40H100.28V297.85H101.80V298.30H103.20V298.56H104.60V298.82H106.00V299.08H107.40V299.34H108.80V299.60H110.11V299.89H111.43V300.17H112.74V300.46H114.06V300.74H115.37V301.03H116.69V301.31H118.00V301.60H119.40V303.50H136.00V305.00H138.60V306.30H143.00V307.90H156.20V309.60H160.10V311.90H185.80V314.80H212.50V318.90H230.50V323.90H249.70V333.10H308.00" fill="none" stroke="#3078b3" stroke-width="1.6" stroke-linejoin="miter"/>
<path d="M63.40 286.00V287.80M95.85 290.30V292.10M120.02 293.40V295.20M124.17 293.40V295.20M135.42 296.50V298.30M139.73 296.50V298.30M144.60 296.50V298.30M147.03 296.50V298.30M150.20 296.50V298.30M152.61 296.50V298.30M160.29 298.80V300.60M162.53 298.80V300.60M166.53 300.30V302.10M170.92 300.30V302.10M175.17 300.30V302.10M177.82 300.30V302.10M179.98 300.30V302.10M183.93 300.30V302.10M186.23 300.30V302.10M189.00 300.30V302.10M191.95 300.30V302.10M194.15 300.30V302.10M197.88 300.30V302.10M201.52 300.30V302.10M206.24 304.70V306.50M210.58 304.70V306.50M214.43 304.70V306.50M218.85 304.70V306.50M222.55 304.70V306.50M225.62 304.70V306.50M231.21 304.70V306.50M236.80 304.70V306.50M241.84 304.70V306.50M247.63 310.30V312.10M259.25 310.30V312.10M271.69 310.30V312.10M281.08 310.30V312.10M300.20 310.30V312.10M307.50 310.30V312.70" stroke="#d96933" stroke-width="0.8" fill="none" opacity="0.85"/>
<path d="M64.35 286.00V287.80M122.18 301.70V303.50M124.58 301.70V303.50M128.75 301.70V303.50M132.33 301.70V303.50M137.26 303.20V305.00M140.49 304.50V306.30M144.91 306.10V307.90M147.10 306.10V307.90M149.50 306.10V307.90M154.08 306.10V307.90M158.23 307.80V309.60M161.82 310.10V311.90M164.12 310.10V311.90M168.96 310.10V311.90M173.12 310.10V311.90M177.52 310.10V311.90M181.80 310.10V311.90M187.53 313.00V314.80M192.28 313.00V314.80M195.68 313.00V314.80M199.78 313.00V314.80M204.19 313.00V314.80M207.39 313.00V314.80M209.79 313.00V314.80M214.94 317.10V318.90M232.39 322.10V323.90M251.06 331.30V333.10M261.96 331.30V333.10M274.89 331.30V333.10M294.71 331.30V333.10M305.85 331.30V333.10M307.50 331.30V333.70" stroke="#3078b3" stroke-width="0.8" fill="none" opacity="0.85"/>
<text x="47.40" y="461.70" font-size="8.5" fill="#111111" stroke="#111111" stroke-width="0.15">Number at risk</text>
<line x1="49.40" y1="469.30" x2="49.40" y2="497.85" stroke="#222222" stroke-width="1.1"/>
<line x1="48.85" y1="497.30" x2="320.00" y2="497.30" stroke="#222222" stroke-width="1.1"/>
<line x1="48.10" y1="476.20" x2="49.40" y2="476.20" stroke="#222222" stroke-width="0.9"/>
<text x="43.80" y="479.30" font-size="8.7" fill="#3078b3" stroke="#3078b3" stroke-width="0.08" text-anchor="end">2 Cycles</text>
<text x="64.75" y="478.50" font-size="8.3" fill="#111111" stroke="#111111" stroke-width="0.15" text-anchor="middle">247</text>
<text x="89.40" y="478.50" font-size="8.3" fill="#111111" stroke="#111111" stroke-width="0.15" text-anchor="middle">211</text>
<text x="114.05" y="478.50" font-size="8.3" fill="#111111" stroke="#111111" stroke-width="0.15" text-anchor="middle">151</text>
<text x="137.60" y="478.50" font-size="8.3" fill="#111111" stroke="#111111" stroke-width="0.15" text-anchor="middle">86</text>
<text x="162.25" y="478.50" font-size="8.3" fill="#111111" stroke="#111111" stroke-width="0.15" text-anchor="middle">49</text>
<text x="186.90" y="478.50" font-size="8.3" fill="#111111" stroke="#111111" stroke-width="0.15" text-anchor="middle">38</text>
<text x="211.55" y="478.50" font-size="8.3" fill="#111111" stroke="#111111" stroke-width="0.15" text-anchor="middle">28</text>
<text x="236.20" y="478.50" font-size="8.3" fill="#111111" stroke="#111111" stroke-width="0.15" text-anchor="middle">17</text>
<text x="259.75" y="478.50" font-size="8.3" fill="#111111" stroke="#111111" stroke-width="0.15" text-anchor="middle">4</text>
<text x="284.40" y="478.50" font-size="8.3" fill="#111111" stroke="#111111" stroke-width="0.15" text-anchor="middle">1</text>
<text x="309.05" y="478.50" font-size="8.3" fill="#111111" stroke="#111111" stroke-width="0.15" text-anchor="middle">1</text>
<line x1="48.10" y1="489.60" x2="49.40" y2="489.60" stroke="#222222" stroke-width="0.9"/>
<text x="43.80" y="492.70" font-size="8.7" fill="#d96933" stroke="#d96933" stroke-width="0.08" text-anchor="end">3 Cycles</text>
<text x="64.75" y="491.90" font-size="8.3" fill="#111111" stroke="#111111" stroke-width="0.15" text-anchor="middle">247</text>
<text x="89.40" y="491.90" font-size="8.3" fill="#111111" stroke="#111111" stroke-width="0.15" text-anchor="middle">218</text>
<text x="114.05" y="491.90" font-size="8.3" fill="#111111" stroke="#111111" stroke-width="0.15" text-anchor="middle">181</text>
<text x="138.70" y="491.90" font-size="8.3" fill="#111111" stroke="#111111" stroke-width="0.15" text-anchor="middle">139</text>
<text x="162.25" y="491.90" font-size="8.3" fill="#111111" stroke="#111111" stroke-width="0.15" text-anchor="middle">86</text>
<text x="186.90" y="491.90" font-size="8.3" fill="#111111" stroke="#111111" stroke-width="0.15" text-anchor="middle">64</text>
<text x="211.55" y="491.90" font-size="8.3" fill="#111111" stroke="#111111" stroke-width="0.15" text-anchor="middle">44</text>
<text x="236.20" y="491.90" font-size="8.3" fill="#111111" stroke="#111111" stroke-width="0.15" text-anchor="middle">29</text>
<text x="260.85" y="491.90" font-size="8.3" fill="#111111" stroke="#111111" stroke-width="0.15" text-anchor="middle">12</text>
<text x="284.40" y="491.90" font-size="8.3" fill="#111111" stroke="#111111" stroke-width="0.15" text-anchor="middle">2</text>
<text x="309.05" y="491.90" font-size="8.3" fill="#111111" stroke="#111111" stroke-width="0.15" text-anchor="middle">1</text>
<line x1="61.40" y1="497.30" x2="61.40" y2="498.80" stroke="#222222" stroke-width="0.8"/>
<text x="61.40" y="509.40" font-size="8.5" fill="#333333" stroke="#333333" stroke-width="0.15" text-anchor="middle">0</text>
<line x1="86.05" y1="497.30" x2="86.05" y2="498.80" stroke="#222222" stroke-width="0.8"/>
<text x="86.05" y="509.40" font-size="8.5" fill="#333333" stroke="#333333" stroke-width="0.15" text-anchor="middle">12</text>
<line x1="110.70" y1="497.30" x2="110.70" y2="498.80" stroke="#222222" stroke-width="0.8"/>
<text x="110.70" y="509.40" font-size="8.5" fill="#333333" stroke="#333333" stroke-width="0.15" text-anchor="middle">24</text>
<line x1="135.35" y1="497.30" x2="135.35" y2="498.80" stroke="#222222" stroke-width="0.8"/>
<text x="135.35" y="509.40" font-size="8.5" fill="#333333" stroke="#333333" stroke-width="0.15" text-anchor="middle">36</text>
<line x1="160.00" y1="497.30" x2="160.00" y2="498.80" stroke="#222222" stroke-width="0.8"/>
<text x="160.00" y="509.40" font-size="8.5" fill="#333333" stroke="#333333" stroke-width="0.15" text-anchor="middle">48</text>
<line x1="184.65" y1="497.30" x2="184.65" y2="498.80" stroke="#222222" stroke-width="0.8"/>
<text x="184.65" y="509.40" font-size="8.5" fill="#333333" stroke="#333333" stroke-width="0.15" text-anchor="middle">60</text>
<line x1="209.30" y1="497.30" x2="209.30" y2="498.80" stroke="#222222" stroke-width="0.8"/>
<text x="209.30" y="509.40" font-size="8.5" fill="#333333" stroke="#333333" stroke-width="0.15" text-anchor="middle">72</text>
<line x1="233.95" y1="497.30" x2="233.95" y2="498.80" stroke="#222222" stroke-width="0.8"/>
<text x="233.95" y="509.40" font-size="8.5" fill="#333333" stroke="#333333" stroke-width="0.15" text-anchor="middle">84</text>
<line x1="258.60" y1="497.30" x2="258.60" y2="498.80" stroke="#222222" stroke-width="0.8"/>
<text x="258.60" y="509.40" font-size="8.5" fill="#333333" stroke="#333333" stroke-width="0.15" text-anchor="middle">96</text>
<line x1="283.25" y1="497.30" x2="283.25" y2="498.80" stroke="#222222" stroke-width="0.8"/>
<text x="283.25" y="509.40" font-size="8.5" fill="#333333" stroke="#333333" stroke-width="0.15" text-anchor="middle">108</text>
<line x1="307.90" y1="497.30" x2="307.90" y2="498.80" stroke="#222222" stroke-width="0.8"/>
<text x="307.90" y="509.40" font-size="8.5" fill="#333333" stroke="#333333" stroke-width="0.15" text-anchor="middle">120</text>
<text x="184.65" y="522.60" font-size="8.5" fill="#111111" stroke="#111111" stroke-width="0.15" text-anchor="middle">Time(months)</text>
<text x="359.60" y="278.50" font-size="14.5" fill="#111" font-weight="bold">d</text>
<line x1="408.30" y1="279.30" x2="408.30" y2="421.55" stroke="#222222" stroke-width="1.1"/>
<line x1="407.75" y1="421.00" x2="685.50" y2="421.00" stroke="#222222" stroke-width="1.1"/>
<line x1="406.80" y1="414.50" x2="408.30" y2="414.50" stroke="#222222" stroke-width="0.8"/>
<text x="403.00" y="417.90" font-size="8.5" fill="#333333" stroke="#333333" stroke-width="0.15" text-anchor="end">0.00</text>
<line x1="406.80" y1="382.38" x2="408.30" y2="382.38" stroke="#222222" stroke-width="0.8"/>
<text x="403.00" y="385.77" font-size="8.5" fill="#333333" stroke="#333333" stroke-width="0.15" text-anchor="end">0.25</text>
<line x1="406.80" y1="350.25" x2="408.30" y2="350.25" stroke="#222222" stroke-width="0.8"/>
<text x="403.00" y="353.65" font-size="8.5" fill="#333333" stroke="#333333" stroke-width="0.15" text-anchor="end">0.50</text>
<line x1="406.80" y1="318.12" x2="408.30" y2="318.12" stroke="#222222" stroke-width="0.8"/>
<text x="403.00" y="321.52" font-size="8.5" fill="#333333" stroke="#333333" stroke-width="0.15" text-anchor="end">0.75</text>
<line x1="406.80" y1="286.00" x2="408.30" y2="286.00" stroke="#222222" stroke-width="0.8"/>
<text x="403.00" y="289.40" font-size="8.5" fill="#333333" stroke="#333333" stroke-width="0.15" text-anchor="end">1.00</text>
<line x1="420.90" y1="421.00" x2="420.90" y2="422.50" stroke="#222222" stroke-width="0.8"/>
<text x="420.90" y="433.10" font-size="8.5" fill="#333333" stroke="#333333" stroke-width="0.15" text-anchor="middle">0</text>
<line x1="445.99" y1="421.00" x2="445.99" y2="422.50" stroke="#222222" stroke-width="0.8"/>
<text x="445.99" y="433.10" font-size="8.5" fill="#333333" stroke="#333333" stroke-width="0.15" text-anchor="middle">12</text>
<line x1="471.08" y1="421.00" x2="471.08" y2="422.50" stroke="#222222" stroke-width="0.8"/>
<text x="471.08" y="433.10" font-size="8.5" fill="#333333" stroke="#333333" stroke-width="0.15" text-anchor="middle">24</text>
<line x1="496.17" y1="421.00" x2="496.17" y2="422.50" stroke="#222222" stroke-width="0.8"/>
<text x="496.17" y="433.10" font-size="8.5" fill="#333333" stroke="#333333" stroke-width="0.15" text-anchor="middle">36</text>
<line x1="521.26" y1="421.00" x2="521.26" y2="422.50" stroke="#222222" stroke-width="0.8"/>
<text x="521.26" y="433.10" font-size="8.5" fill="#333333" stroke="#333333" stroke-width="0.15" text-anchor="middle">48</text>
<line x1="546.35" y1="421.00" x2="546.35" y2="422.50" stroke="#222222" stroke-width="0.8"/>
<text x="546.35" y="433.10" font-size="8.5" fill="#333333" stroke="#333333" stroke-width="0.15" text-anchor="middle">60</text>
<line x1="571.44" y1="421.00" x2="571.44" y2="422.50" stroke="#222222" stroke-width="0.8"/>
<text x="571.44" y="433.10" font-size="8.5" fill="#333333" stroke="#333333" stroke-width="0.15" text-anchor="middle">72</text>
<line x1="596.53" y1="421.00" x2="596.53" y2="422.50" stroke="#222222" stroke-width="0.8"/>
<text x="596.53" y="433.10" font-size="8.5" fill="#333333" stroke="#333333" stroke-width="0.15" text-anchor="middle">84</text>
<line x1="621.62" y1="421.00" x2="621.62" y2="422.50" stroke="#222222" stroke-width="0.8"/>
<text x="621.62" y="433.10" font-size="8.5" fill="#333333" stroke="#333333" stroke-width="0.15" text-anchor="middle">96</text>
<line x1="646.71" y1="421.00" x2="646.71" y2="422.50" stroke="#222222" stroke-width="0.8"/>
<text x="646.71" y="433.10" font-size="8.5" fill="#333333" stroke="#333333" stroke-width="0.15" text-anchor="middle">108</text>
<line x1="671.80" y1="421.00" x2="671.80" y2="422.50" stroke="#222222" stroke-width="0.8"/>
<text x="671.80" y="433.10" font-size="8.5" fill="#333333" stroke="#333333" stroke-width="0.15" text-anchor="middle">120</text>
<text x="546.35" y="445.90" font-size="8.5" fill="#111111" stroke="#111111" stroke-width="0.15" text-anchor="middle">Time(months)</text>
<text x="0" y="0" font-size="8.6" fill="#111111" stroke="#111111" stroke-width="0.15" text-anchor="middle" transform="translate(368.00,349.80) rotate(-90)">Locoregional recurrence-free</text>
<text x="0" y="0" font-size="8.6" fill="#111111" stroke="#111111" stroke-width="0.15" text-anchor="middle" transform="translate(378.00,349.80) rotate(-90)">survival probability</text>
<line x1="638.00" y1="282.30" x2="648.00" y2="282.30" stroke="#3078b3" stroke-width="1.2"/>
<line x1="639.70" y1="282.30" x2="646.30" y2="282.30" stroke="#3078b3" stroke-width="1.7"/>
<line x1="643.00" y1="279.70" x2="643.00" y2="283.90" stroke="#3078b3" stroke-width="1.0"/>
<text x="652.20" y="284.90" font-size="8.6" fill="#111111" stroke="#111111" stroke-width="0.15">2 Cycles</text>
<line x1="638.00" y1="294.10" x2="648.00" y2="294.10" stroke="#d96933" stroke-width="1.2"/>
<line x1="639.70" y1="294.10" x2="646.30" y2="294.10" stroke="#d96933" stroke-width="1.7"/>
<line x1="643.00" y1="291.50" x2="643.00" y2="295.70" stroke="#d96933" stroke-width="1.0"/>
<text x="652.20" y="296.80" font-size="8.6" fill="#111111" stroke="#111111" stroke-width="0.15">3 Cycles</text>
<text x="425.70" y="374.80" font-size="8.6" fill="#111" font-weight="bold">After-balancing</text>
<text x="425.70" y="387.00" font-size="8.6" fill="#111" font-weight="bold"><tspan font-style="italic">p</tspan> = 0.157</text>
<text x="425.70" y="399.00" font-size="8.6" fill="#111" font-weight="bold">HR = 0.64 (0.35–1.20)</text>
<text x="575.80" y="374.80" font-size="8.5" fill="#3a3a3a" stroke="#3a3a3a" stroke-width="0.06">3-year</text>
<text x="606.90" y="374.80" font-size="8.5" fill="#3a3a3a" stroke="#3a3a3a" stroke-width="0.06">5-year</text>
<text x="534.70" y="386.90" font-size="8.5" fill="#3a3a3a" stroke="#3a3a3a" stroke-width="0.06">2 cycles</text>
<text x="534.70" y="399.30" font-size="8.5" fill="#3a3a3a" stroke="#3a3a3a" stroke-width="0.06">3 cycles</text>
<text x="575.80" y="386.90" font-size="8.5" fill="#3a3a3a" stroke="#3a3a3a" stroke-width="0.06">91.2%</text>
<text x="606.90" y="386.90" font-size="8.5" fill="#3a3a3a" stroke="#3a3a3a" stroke-width="0.06">85.0%</text>
<text x="575.80" y="399.30" font-size="8.5" fill="#3a3a3a" stroke="#3a3a3a" stroke-width="0.06">97.0%</text>
<text x="606.90" y="399.30" font-size="8.5" fill="#3a3a3a" stroke="#3a3a3a" stroke-width="0.06">90.4%</text>
<path d="M421.10 286.00H460.00H461.75V286.70H463.50V287.40H464.82V287.62H466.15V287.85H467.48V288.07H468.80V288.30H470.10V288.52H471.40V288.75H472.70V288.98H474.00V289.20H486.40H488.15V290.10H489.90V291.00H496.00H497.50V292.15H499.00V293.30H515.30V294.40H517.90V296.20H538.20V298.10H555.10V300.00H559.20V302.30H566.20H568.00V306.80H613.40V313.40H672.20" fill="none" stroke="#d96933" stroke-width="1.6" stroke-linejoin="miter"/>
<path d="M421.10 286.00H435.50H436.80V286.50H438.10V287.00H444.30H446.00V287.90H457.40H459.15V289.45H460.90V291.00H462.20V291.85H463.50V292.70H468.80H470.50V294.00H475.00H476.32V294.32H477.65V294.65H478.98V294.98H480.30V295.30H481.60V295.68H482.90V296.05H484.20V296.43H485.50V296.80H499.50V298.30H501.02V298.62H502.55V298.95H504.08V299.28H505.60V299.60H516.20V302.30H534.10V305.10H549.90V307.80H613.00V316.60H672.20" fill="none" stroke="#3078b3" stroke-width="1.6" stroke-linejoin="miter"/>
<path d="M423.00 284.20V286.00M427.06 284.20V286.00M432.40 284.20V286.00M436.13 284.20V286.00M440.01 284.20V286.00M444.16 284.20V286.00M446.91 284.20V286.00M450.80 284.20V286.00M455.10 284.20V286.00M475.19 287.40V289.20M478.35 287.40V289.20M480.77 287.40V289.20M492.29 289.20V291.00M494.53 289.20V291.00M501.93 291.50V293.30M506.32 291.50V293.30M510.57 291.50V293.30M513.22 291.50V293.30M519.02 294.40V296.20M521.78 294.40V296.20M524.73 294.40V296.20M526.94 294.40V296.20M530.66 294.40V296.20M534.30 294.40V296.20M540.24 296.30V298.10M544.58 296.30V298.10M548.43 296.30V298.10M552.85 296.30V298.10M556.66 298.20V300.00M562.19 300.50V302.30M570.42 305.00V306.80M573.62 305.00V306.80M576.52 305.00V306.80M579.63 305.00V306.80M581.98 305.00V306.80M586.76 305.00V306.80M590.26 305.00V306.80M595.33 305.00V306.80M598.78 305.00V306.80M604.23 305.00V306.80M609.30 305.00V306.80M611.40 305.00V306.80M616.22 311.60V313.40M631.20 311.60V313.40M653.33 311.60V313.40M667.29 311.60V313.40M671.70 311.60V314.00" stroke="#d96933" stroke-width="0.8" fill="none" opacity="0.85"/>
<path d="M423.95 284.20V286.00M429.37 284.20V286.00M434.59 284.20V286.00M440.28 285.20V287.00M448.06 286.10V287.90M450.62 286.10V287.90M453.39 286.10V287.90M464.94 290.90V292.70M471.55 292.20V294.00M473.95 292.20V294.00M487.34 295.00V296.80M491.24 295.00V296.80M495.91 295.00V296.80M506.72 297.80V299.60M511.56 297.80V299.60M518.52 300.50V302.30M522.79 300.50V302.30M528.29 300.50V302.30M531.66 300.50V302.30M535.84 303.30V305.10M539.94 303.30V305.10M544.35 303.30V305.10M547.55 303.30V305.10M551.85 306.00V307.80M556.46 306.00V307.80M560.63 306.00V307.80M564.29 306.00V307.80M568.64 306.00V307.80M571.38 306.00V307.80M574.10 306.00V307.80M587.03 306.00V307.80M606.85 306.00V307.80M614.23 314.80V316.60M624.01 314.80V316.60M632.95 314.80V316.60M645.21 314.80V316.60M661.63 314.80V316.60M671.70 314.80V317.20" stroke="#3078b3" stroke-width="0.8" fill="none" opacity="0.85"/>
<text x="407.80" y="461.90" font-size="8.5" fill="#111111" stroke="#111111" stroke-width="0.15">Number at risk</text>
<line x1="408.30" y1="470.00" x2="408.30" y2="498.65" stroke="#222222" stroke-width="1.1"/>
<line x1="407.75" y1="498.10" x2="685.50" y2="498.10" stroke="#222222" stroke-width="1.1"/>
<line x1="407.00" y1="476.80" x2="408.30" y2="476.80" stroke="#222222" stroke-width="0.9"/>
<text x="403.40" y="479.90" font-size="8.7" fill="#3078b3" stroke="#3078b3" stroke-width="0.08" text-anchor="end">2 Cycles</text>
<text x="424.60" y="479.10" font-size="8.5" fill="#111111" stroke="#111111" stroke-width="0.15" text-anchor="middle">247</text>
<text x="449.69" y="479.10" font-size="8.5" fill="#111111" stroke="#111111" stroke-width="0.15" text-anchor="middle">216</text>
<text x="474.78" y="479.10" font-size="8.5" fill="#111111" stroke="#111111" stroke-width="0.15" text-anchor="middle">155</text>
<text x="498.67" y="479.10" font-size="8.5" fill="#111111" stroke="#111111" stroke-width="0.15" text-anchor="middle">86</text>
<text x="523.76" y="479.10" font-size="8.5" fill="#111111" stroke="#111111" stroke-width="0.15" text-anchor="middle">49</text>
<text x="548.85" y="479.10" font-size="8.5" fill="#111111" stroke="#111111" stroke-width="0.15" text-anchor="middle">38</text>
<text x="573.94" y="479.10" font-size="8.5" fill="#111111" stroke="#111111" stroke-width="0.15" text-anchor="middle">29</text>
<text x="599.03" y="479.10" font-size="8.5" fill="#111111" stroke="#111111" stroke-width="0.15" text-anchor="middle">20</text>
<text x="622.92" y="479.10" font-size="8.5" fill="#111111" stroke="#111111" stroke-width="0.15" text-anchor="middle">4</text>
<text x="648.01" y="479.10" font-size="8.5" fill="#111111" stroke="#111111" stroke-width="0.15" text-anchor="middle">1</text>
<text x="673.10" y="479.10" font-size="8.5" fill="#111111" stroke="#111111" stroke-width="0.15" text-anchor="middle">1</text>
<line x1="407.00" y1="489.60" x2="408.30" y2="489.60" stroke="#222222" stroke-width="0.9"/>
<text x="403.40" y="492.70" font-size="8.7" fill="#d96933" stroke="#d96933" stroke-width="0.08" text-anchor="end">3 Cycles</text>
<text x="424.60" y="491.90" font-size="8.5" fill="#111111" stroke="#111111" stroke-width="0.15" text-anchor="middle">247</text>
<text x="449.69" y="491.90" font-size="8.5" fill="#111111" stroke="#111111" stroke-width="0.15" text-anchor="middle">222</text>
<text x="474.78" y="491.90" font-size="8.5" fill="#111111" stroke="#111111" stroke-width="0.15" text-anchor="middle">183</text>
<text x="499.87" y="491.90" font-size="8.5" fill="#111111" stroke="#111111" stroke-width="0.15" text-anchor="middle">140</text>
<text x="523.76" y="491.90" font-size="8.5" fill="#111111" stroke="#111111" stroke-width="0.15" text-anchor="middle">84</text>
<text x="548.85" y="491.90" font-size="8.5" fill="#111111" stroke="#111111" stroke-width="0.15" text-anchor="middle">63</text>
<text x="573.94" y="491.90" font-size="8.5" fill="#111111" stroke="#111111" stroke-width="0.15" text-anchor="middle">42</text>
<text x="599.03" y="491.90" font-size="8.5" fill="#111111" stroke="#111111" stroke-width="0.15" text-anchor="middle">28</text>
<text x="624.12" y="491.90" font-size="8.5" fill="#111111" stroke="#111111" stroke-width="0.15" text-anchor="middle">12</text>
<text x="648.01" y="491.90" font-size="8.5" fill="#111111" stroke="#111111" stroke-width="0.15" text-anchor="middle">2</text>
<text x="673.10" y="491.90" font-size="8.5" fill="#111111" stroke="#111111" stroke-width="0.15" text-anchor="middle">1</text>
<line x1="420.90" y1="498.10" x2="420.90" y2="499.60" stroke="#222222" stroke-width="0.8"/>
<text x="420.90" y="510.00" font-size="8.5" fill="#333333" stroke="#333333" stroke-width="0.15" text-anchor="middle">0</text>
<line x1="445.99" y1="498.10" x2="445.99" y2="499.60" stroke="#222222" stroke-width="0.8"/>
<text x="445.99" y="510.00" font-size="8.5" fill="#333333" stroke="#333333" stroke-width="0.15" text-anchor="middle">12</text>
<line x1="471.08" y1="498.10" x2="471.08" y2="499.60" stroke="#222222" stroke-width="0.8"/>
<text x="471.08" y="510.00" font-size="8.5" fill="#333333" stroke="#333333" stroke-width="0.15" text-anchor="middle">24</text>
<line x1="496.17" y1="498.10" x2="496.17" y2="499.60" stroke="#222222" stroke-width="0.8"/>
<text x="496.17" y="510.00" font-size="8.5" fill="#333333" stroke="#333333" stroke-width="0.15" text-anchor="middle">36</text>
<line x1="521.26" y1="498.10" x2="521.26" y2="499.60" stroke="#222222" stroke-width="0.8"/>
<text x="521.26" y="510.00" font-size="8.5" fill="#333333" stroke="#333333" stroke-width="0.15" text-anchor="middle">48</text>
<line x1="546.35" y1="498.10" x2="546.35" y2="499.60" stroke="#222222" stroke-width="0.8"/>
<text x="546.35" y="510.00" font-size="8.5" fill="#333333" stroke="#333333" stroke-width="0.15" text-anchor="middle">60</text>
<line x1="571.44" y1="498.10" x2="571.44" y2="499.60" stroke="#222222" stroke-width="0.8"/>
<text x="571.44" y="510.00" font-size="8.5" fill="#333333" stroke="#333333" stroke-width="0.15" text-anchor="middle">72</text>
<line x1="596.53" y1="498.10" x2="596.53" y2="499.60" stroke="#222222" stroke-width="0.8"/>
<text x="596.53" y="510.00" font-size="8.5" fill="#333333" stroke="#333333" stroke-width="0.15" text-anchor="middle">84</text>
<line x1="621.62" y1="498.10" x2="621.62" y2="499.60" stroke="#222222" stroke-width="0.8"/>
<text x="621.62" y="510.00" font-size="8.5" fill="#333333" stroke="#333333" stroke-width="0.15" text-anchor="middle">96</text>
<line x1="646.71" y1="498.10" x2="646.71" y2="499.60" stroke="#222222" stroke-width="0.8"/>
<text x="646.71" y="510.00" font-size="8.5" fill="#333333" stroke="#333333" stroke-width="0.15" text-anchor="middle">108</text>
<line x1="671.80" y1="498.10" x2="671.80" y2="499.60" stroke="#222222" stroke-width="0.8"/>
<text x="671.80" y="510.00" font-size="8.5" fill="#333333" stroke="#333333" stroke-width="0.15" text-anchor="middle">120</text>
<text x="546.35" y="523.20" font-size="8.5" fill="#111111" stroke="#111111" stroke-width="0.15" text-anchor="middle">Time(months)</text>
</svg></body></html>
